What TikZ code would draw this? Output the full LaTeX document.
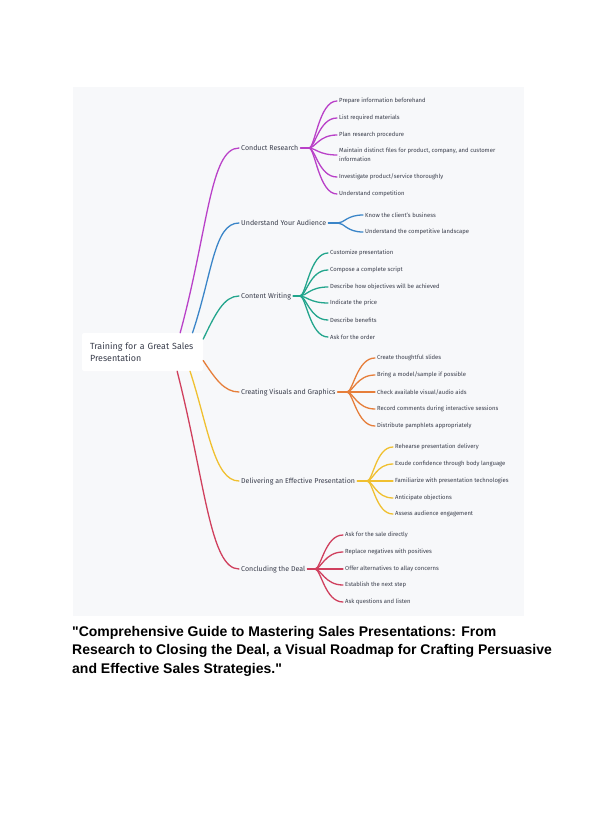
\documentclass[tikz,border=0pt]{standalone}
\usepackage{fontspec}
\setmainfont{Fira Sans}
\newfontfamily\titlefont{Liberation Sans}
\usepackage{xcolor}
\usetikzlibrary{positioning}
\definecolor{panelbg}{HTML}{F7F8FA}
\definecolor{txt}{HTML}{3A3E4C}
\definecolor{cresearch}{HTML}{B941C8}
\definecolor{caudience}{HTML}{3A85C8}
\definecolor{ccontent}{HTML}{22A58C}
\definecolor{cvisuals}{HTML}{E67E3A}
\definecolor{cdeliver}{HTML}{F0C030}
\definecolor{cdeal}{HTML}{D0405E}
\begin{document}
\begin{tikzpicture}[x=1pt,y=-1pt,line cap=round,
  edge/.style={line width=1.3pt},
  rootbox/.style={fill=white,rounded corners=2pt,minimum width=121pt,minimum height=38pt,text width=105pt,align=left,inner sep=0pt,font=\fontsize{8.9}{12}\selectfont,text=txt},
  topic/.style={anchor=west,inner sep=2pt,font=\fontsize{7.05}{8}\selectfont,text=txt},
  leaf/.style={anchor=west,inner sep=2pt,align=left,font=\fontsize{5.9}{8.6}\selectfont,text=txt}]
\useasboundingbox (0,0) rectangle (595,840);
\fill[panelbg] (73,87) rectangle (524,616);
\node[rootbox] (root) at (142.5,352) {Training for a Great Sales\\Presentation};
\node[topic] (research) at (239,148) {Conduct Research};
\node[topic] (audience) at (239,223) {Understand Your Audience};
\node[topic] (content) at (239,296) {Content Writing};
\node[topic] (visuals) at (239,392) {Creating Visuals and Graphics};
\node[topic] (deliver) at (239,481) {Delivering an Effective Presentation};
\node[topic] (deal) at (239,569) {Concluding the Deal};
\draw[edge,cresearch] (root.27) .. controls +(28,-103) and +(-29,0) .. (research.west);
\draw[edge,caudience] (root.21) .. controls +(20,-60) and +(-25,0) .. (audience.west);
\draw[edge,ccontent] (root.12) .. controls +(12,-25) and +(-15,0) .. (content.west);
\draw[edge,cvisuals] (root.-8) .. controls +(12,18) and +(-15,0) .. (visuals.west);
\draw[edge,cdeliver] (root.-22) .. controls +(18,55) and +(-25,0) .. (deliver.west);
\draw[edge,cdeal] (root.-29) .. controls +(28,110) and +(-29,0) .. (deal.west);
\coordinate (researchfan) at (309,148);
\coordinate (audiencefan) at (338,223);
\coordinate (contentfan) at (300,296);
\coordinate (visualsfan) at (347,392);
\coordinate (deliverfan) at (367,481);
\coordinate (dealfan) at (315,569);
\draw[edge,cresearch] (research.east) -- (researchfan);
\draw[edge,caudience] (audience.east) -- (audiencefan);
\draw[edge,ccontent] (content.east) -- (contentfan);
\draw[edge,cvisuals] (visuals.east) -- (visualsfan);
\draw[edge,cdeliver] (deliver.east) -- (deliverfan);
\draw[edge,cdeal] (deal.east) -- (dealfan);
\foreach \y/\txt [count=\i] in {101/Prepare information beforehand, 118/List required materials, 135/Plan research procedure, 155/{Maintain distinct files for product, company, and customer\\information}, 177/{Investigate product/service thoroughly}, 194/Understand competition}{
  \node[leaf] (research-\i) at (337,\y) {\txt};
  \draw[edge,cresearch] (researchfan) .. controls +(6,0) and +(-18,0) .. (research-\i.west);
}
\foreach \y/\txt [count=\i] in {215/Know the client’s business, 232/Understand the competitive landscape}{
  \node[leaf] (audience-\i) at (363,\y) {\txt};
  \draw[edge,caudience] (audiencefan) .. controls +(6,0) and +(-16,0) .. (audience-\i.west);
}
\foreach \y/\txt [count=\i] in {253/Customize presentation, 270/Compose a complete script, 287/Describe how objectives will be achieved, 303/Indicate the price, 320/Describe benefits, 337/Ask for the order}{
  \node[leaf] (content-\i) at (328,\y) {\txt};
  \draw[edge,ccontent] (contentfan) .. controls +(6,0) and +(-18,0) .. (content-\i.west);
}
\foreach \y/\txt [count=\i] in {358/Create thoughtful slides, 375/{Bring a model/sample if possible}, 392/{Check available visual/audio aids}, 409/Record comments during interactive sessions, 426/Distribute pamphlets appropriately}{
  \node[leaf] (visuals-\i) at (375,\y) {\txt};
  \draw[edge,cvisuals] (visualsfan) .. controls +(6,0) and +(-18,0) .. (visuals-\i.west);
}
\foreach \y/\txt [count=\i] in {447/Rehearse presentation delivery, 464/Exude confidence through body language, 481/Familiarize with presentation technologies, 498/Anticipate objections, 514/Assess audience engagement}{
  \node[leaf] (deliver-\i) at (393,\y) {\txt};
  \draw[edge,cdeliver] (deliverfan) .. controls +(6,0) and +(-17,0) .. (deliver-\i.west);
}
\foreach \y/\txt [count=\i] in {535/Ask for the sale directly, 552/Replace negatives with positives, 569/Offer alternatives to allay concerns, 585/Establish the next step, 602/Ask questions and listen}{
  \node[leaf] (deal-\i) at (343,\y) {\txt};
  \draw[edge,cdeal] (dealfan) .. controls +(6,0) and +(-18,0) .. (deal-\i.west);
}
\node[anchor=north west,inner sep=0pt,align=left,font=\titlefont\bfseries\fontsize{14}{18.5}\selectfont] (caption) at (72,626) {"Comprehensive Guide to Mastering Sales Presentations: From\\Research to Closing the Deal, a Visual Roadmap for Crafting Persuasive\\and Effective Sales Strategies."};
\end{tikzpicture}
\end{document}
